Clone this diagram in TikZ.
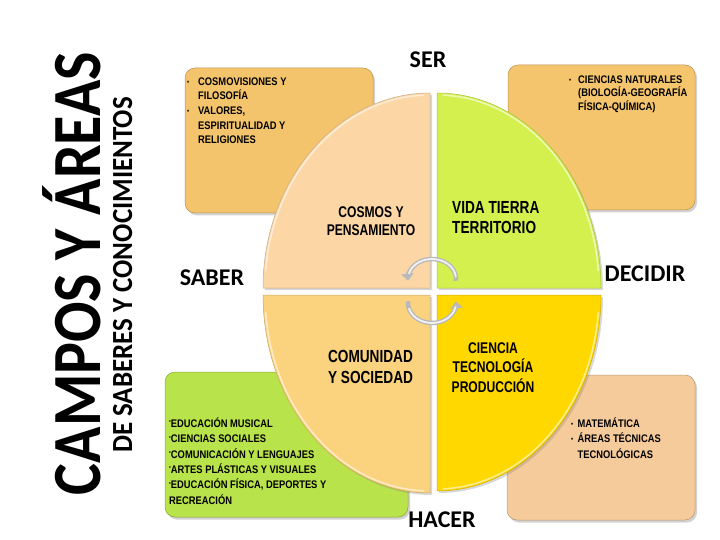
\documentclass[tikz,border=0pt]{standalone}
\usepackage{fontspec}
\setmainfont{Liberation Sans}
\newfontfamily\carl{Carlito}
\newfontfamily\quadfont[FakeStretch=0.78]{Liberation Sans}
\newfontfamily\boxfont[FakeStretch=0.85]{Liberation Sans}
\usetikzlibrary{arrows.meta,shadows}
\definecolor{boxTL}{HTML}{F3C46C}
\definecolor{boxTR}{HTML}{F5C56E}
\definecolor{boxBL}{HTML}{B9E34B}
\definecolor{boxBR}{HTML}{F6CB9C}
\definecolor{quadTL}{HTML}{FCD6A4}
\definecolor{quadTR}{HTML}{D4F04E}
\definecolor{quadBL}{HTML}{FBD27E}
\definecolor{quadBR}{HTML}{FFD800}
\newcommand{\bul}[1]{\makebox[#1][l]{\raisebox{1pt}{\fontsize{7}{7}\selectfont\textbullet}}}
\newcommand{\dotb}{\raisebox{3.5pt}{\fontsize{6}{6}\selectfont\textbullet}}
\begin{document}
\begin{tikzpicture}[x=1pt,y=1pt,
  areabox/.style={rounded corners=10pt, draw=#1!75!black, line width=0.5pt, fill=#1,
    drop shadow={opacity=0.35,shadow xshift=2pt,shadow yshift=-2.5pt}},
  quad/.style={draw=#1!80!black, line width=0.5pt, fill=#1,
    drop shadow={opacity=0.3,shadow xshift=2pt,shadow yshift=-2pt}},
  rim/.style={draw=white, opacity=0.55, line width=1.6pt},
  dirlabel/.style={font=\carl\bfseries\fontsize{24}{24}\selectfont, inner sep=0pt, anchor=base},
  qlabel/.style={inner sep=0pt, align=center},
  boxtext/.style={font=\boxfont\bfseries\fontsize{11}{#1}\selectfont, inner sep=0pt, anchor=north west, align=left},
  cyc/.style={draw=gray!55, line width=4.5pt, -{Triangle[width=12pt,length=7pt]}},
  cychl/.style={draw=gray!10, line width=1.8pt}
]
\useasboundingbox[fill=white] (0,0) rectangle (720,-540);

% title
\node[rotate=90, anchor=base, font=\carl\bfseries, inner sep=0pt] (title) at (100,-273.5)
  {\scalebox{1}[1.15]{\fontsize{60}{60}\selectfont CAMPOS Y ÁREAS}};
\node[rotate=90, anchor=base, font=\carl\bfseries, inner sep=0pt] (subtitle) at (132,-275)
  {\scalebox{1}[1.08]{\fontsize{27}{27}\selectfont DE SABERES Y CONOCIMIENTOS}};

% boxes
\draw[areabox=boxTL] (185,-68) rectangle (373,-213);
\draw[areabox=boxTR] (508,-65) rectangle (695,-210);
\draw[areabox=boxBL] (165,-372) rectangle (408,-517);
\draw[areabox=boxBR] (507,-375) rectangle (695,-520);

% quadrants
\path[quad=quadTL] (430,-288) -- (263,-288) arc[start angle=180,end angle=90,x radius=167,y radius=195] -- cycle;
\path[quad=quadTR] (437,-288) -- (437,-93) arc[start angle=90,end angle=0,x radius=164,y radius=195] -- cycle;
\path[quad=quadBL] (430,-295) -- (263,-295) arc[start angle=180,end angle=270,x radius=167,y radius=198] -- cycle;
\path[quad=quadBR] (437,-295) -- (601,-295) arc[start angle=0,end angle=-90,x radius=164,y radius=196] -- cycle;
% light rims along the arcs
\draw[rim] (430,-288) ++(175:165 and 193) arc[start angle=175,end angle=92,x radius=165,y radius=193];
\draw[rim] (437,-288) ++(88:162 and 193) arc[start angle=88,end angle=5,x radius=162,y radius=193];
\draw[rim] (430,-295) ++(185:165 and 196) arc[start angle=185,end angle=268,x radius=165,y radius=196];
\draw[rim] (437,-295) ++(-5:162 and 194) arc[start angle=-5,end angle=-88,x radius=162,y radius=194];

% cycle arrows
\draw[cyc] (432,-279) ++(-5:24 and 20) arc[start angle=-5,end angle=185,x radius=24,y radius=20];
\draw[cychl] (432,-279) ++(5:24 and 20) arc[start angle=5,end angle=165,x radius=24,y radius=20];
\draw[cyc] (432,-303) ++(175:24 and 20) arc[start angle=175,end angle=365,x radius=24,y radius=20];
\draw[cychl] (432,-303) ++(195:24 and 20) arc[start angle=195,end angle=350,x radius=24,y radius=20];

% direction labels
\node[dirlabel] (ser) at (428,-68) {SER};
\node[dirlabel] (saber) at (212,-285) {SABER};
\node[dirlabel] (decidir) at (645,-281) {DECIDIR};
\node[dirlabel] (hacer) at (442,-527) {HACER};

% quadrant labels
\node[qlabel, anchor=north, font=\quadfont\bfseries\fontsize{15.5}{18}\selectfont] (cosmos) at (371,-201.5)
  {\rule{0pt}{15.5pt}COSMOS Y\\PENSAMIENTO};
\node[qlabel, anchor=north west, align=left, font=\quadfont\bfseries\fontsize{17.5}{20}\selectfont] (vida) at (452,-195.5)
  {\rule{0pt}{17.5pt}VIDA TIERRA\\TERRITORIO};
\node[qlabel, anchor=north, font=\quadfont\bfseries\fontsize{17.5}{21}\selectfont] (comunidad) at (370.5,-344.5)
  {\rule{0pt}{17.5pt}COMUNIDAD\\Y SOCIEDAD};
\node[qlabel, anchor=north, font=\quadfont\bfseries\fontsize{15.5}{19.5}\selectfont] (ciencia) at (493,-337.5)
  {\rule{0pt}{15.5pt}CIENCIA\\TECNOLOGÍA\\PRODUCCIÓN};

% box texts
\node[boxtext=14.7] (tltext) at (187,-74)
  {\rule{0pt}{11pt}\bul{11pt}COSMOVISIONES Y\\\hspace*{11pt}FILOSOFÍA\\\bul{11pt}VALORES,\\\hspace*{11pt}ESPIRITUALIDAD Y\\\hspace*{11pt}RELIGIONES};
\node[boxtext=13.5] (trtext) at (569,-72)
  {\rule{0pt}{11pt}\bul{9pt}CIENCIAS NATURALES\\\hspace*{9pt}(BIOLOGÍA-GEOGRAFÍA\\\hspace*{9pt}FÍSICA-QUÍMICA)};
\node[boxtext=15.5] (brtext) at (571,-416)
  {\rule{0pt}{11pt}\bul{6.5pt}MATEMÁTICA\\\bul{6.5pt}ÁREAS TÉCNICAS\\\hspace*{6.5pt}TECNOLÓGICAS};
\node[boxtext=15.4] (bltext) at (169,-416)
  {\rule{0pt}{11pt}\dotb EDUCACIÓN MUSICAL\\\dotb CIENCIAS SOCIALES\\\dotb COMUNICACIÓN Y LENGUAJES\\\dotb ARTES PLÁSTICAS Y VISUALES\\\dotb EDUCACIÓN FÍSICA, DEPORTES Y\\RECREACIÓN};
\end{tikzpicture}
\end{document}
